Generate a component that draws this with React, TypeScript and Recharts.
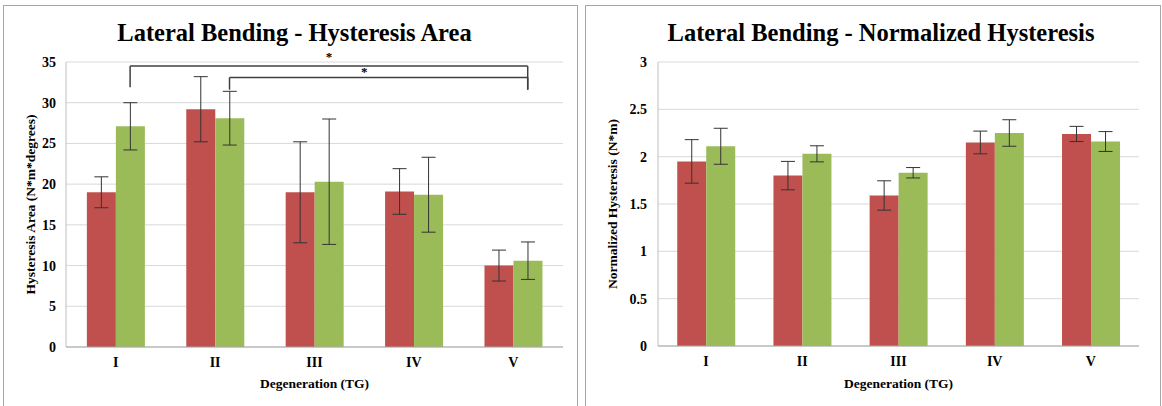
import React from "react";
import {
  BarChart,
  Bar,
  XAxis,
  YAxis,
  CartesianGrid,
  ErrorBar,
  ReferenceLine,
  Label,
} from "recharts";

const categories = ["I", "II", "III", "IV", "V"];

const areaRed = [19.0, 29.2, 19.0, 19.1, 10.0];
const areaRedErr = [1.9, 4.0, 6.2, 2.8, 1.9];
const areaGreen = [27.1, 28.1, 20.3, 18.7, 10.6];
const areaGreenErr = [2.9, 3.3, 7.7, 4.6, 2.3];
const areaTicks = [0, 5, 10, 15, 20, 25, 30, 35];

const normRed = [1.95, 1.8, 1.59, 2.15, 2.24];
const normRedErr = [0.23, 0.15, 0.155, 0.12, 0.08];
const normGreen = [2.11, 2.03, 1.83, 2.25, 2.16];
const normGreenErr = [0.19, 0.085, 0.055, 0.14, 0.105];
const normTicks = [0, 0.5, 1, 1.5, 2, 2.5, 3];

// significance brackets on the hysteresis area chart (between green bars)
const brackets = [
  { from: "I", to: "V", top: 34.5, leftEnd: 31.9, rightEnd: 31.6, starShift: true, starOffset: 5 },
  { from: "II", to: "V", top: 33.1, leftEnd: 31.6, rightEnd: 31.6, starShift: false, starOffset: 1 },
];

const RED = "#C0504D";
const GREEN = "#9BBB59";
const FONT = "'Liberation Serif', 'Times New Roman', serif";
const tickStyle = { fill: "#000", fontSize: 14, fontWeight: 700, fontFamily: FONT };

const areaData = categories.map((c, i) => ({
  name: c,
  red: areaRed[i],
  redErr: areaRedErr[i],
  green: areaGreen[i],
  greenErr: areaGreenErr[i],
}));

const normData = categories.map((c, i) => ({
  name: c,
  red: normRed[i],
  redErr: normRedErr[i],
  green: normGreen[i],
  greenErr: normGreenErr[i],
}));

const CHART_W = 573;
const CHART_H = 400;

const yTitle = (text: string, x: number) => (props: any) => {
  const vb = props.viewBox;
  const cy = vb.y + vb.height / 2;
  return (
    <text
      x={x}
      y={cy}
      transform={`rotate(-90 ${x} ${cy})`}
      textAnchor="middle"
      dominantBaseline="central"
      fontFamily={FONT}
      fontWeight={700}
      fontSize={13.5}
      fill="#000"
    >
      {text}
    </text>
  );
};

const xTitle = (text: string, y: number) => (props: any) => {
  const vb = props.viewBox;
  const cx = vb.x + vb.width / 2;
  return (
    <text
      x={cx}
      y={y}
      textAnchor="middle"
      dominantBaseline="central"
      fontFamily={FONT}
      fontWeight={700}
      fontSize={13.5}
      fill="#000"
    >
      {text}
    </text>
  );
};

function Panel({
  left,
  width,
  title,
  titleDx,
  children,
}: {
  left: number;
  width: number;
  title: string;
  titleDx: number;
  children: React.ReactNode;
}) {
  return (
    <div
      style={{
        position: "absolute",
        left,
        top: 5,
        width,
        height: 410,
        boxSizing: "border-box",
        border: "1px solid #A6A6A6",
        background: "#fff",
      }}
    >
      <div
        style={{
          position: "absolute",
          left: titleDx,
          right: 0,
          top: 12,
          textAlign: "center",
          fontFamily: FONT,
          fontWeight: 700,
          fontSize: 24.5,
          lineHeight: "30px",
          color: "#000",
          whiteSpace: "nowrap",
        }}
      >
        {title}
      </div>
      {children}
    </div>
  );
}

function AreaChartPanel() {
  const plotLeft = 62;
  const plotRight = 14;
  const gap = 0.21;
  const band = (CHART_W - plotLeft - plotRight) / categories.length;
  const dx = (band * (1 - 2 * gap)) / 4;

  const shifted = (p: any) => (
    <line
      x1={p.x1 + dx}
      y1={p.y1}
      x2={p.x2 + dx}
      y2={p.y2}
      stroke="#404040"
      strokeWidth={1.5}
    />
  );

  return (
    <BarChart
      width={CHART_W}
      height={CHART_H}
      data={areaData}
      margin={{ top: 56, right: plotRight, left: 0, bottom: 0 }}
      barGap={0}
      barCategoryGap={`${gap * 100}%`}
    >
      <CartesianGrid vertical={false} stroke="#D9D9D9" />
      <XAxis
        dataKey="name"
        height={59}
        tick={tickStyle}
        tickLine={false}
        tickSize={0}
        tickMargin={10}
        axisLine={{ stroke: "#A6A6A6" }}
      >
        <Label content={xTitle("Degeneration (TG)", 377)} />
      </XAxis>
      <YAxis
        width={plotLeft}
        domain={[0, 35]}
        ticks={areaTicks}
        interval={0}
        tick={tickStyle}
        tickLine={false}
        tickSize={0}
        tickMargin={10}
        axisLine={{ stroke: "#BFBFBF" }}
      >
        <Label content={yTitle("Hysteresis Area (N*m*degrees)", 26)} />
      </YAxis>
      <Bar dataKey="red" fill={RED} isAnimationActive={false}>
        <ErrorBar dataKey="redErr" width={7} stroke="#333" strokeWidth={1} isAnimationActive={false} />
      </Bar>
      <Bar dataKey="green" fill={GREEN} isAnimationActive={false}>
        <ErrorBar dataKey="greenErr" width={7} stroke="#333" strokeWidth={1} isAnimationActive={false} />
      </Bar>
      {brackets.map((b, i) => (
        <ReferenceLine
          key={`top-${i}`}
          segment={[
            { x: b.from, y: b.top },
            { x: b.to, y: b.top },
          ]}
          ifOverflow="visible"
          shape={shifted}
          label={{
            value: "*",
            position: "top",
            offset: b.starOffset,
            dx: b.starShift ? dx : 0,
            fill: "#000",
            fontSize: 13,
            fontWeight: 700,
            fontFamily: FONT,
          }}
        />
      ))}
      {brackets.map((b, i) => (
        <ReferenceLine
          key={`l-${i}`}
          segment={[
            { x: b.from, y: b.leftEnd },
            { x: b.from, y: b.top },
          ]}
          ifOverflow="visible"
          shape={shifted}
        />
      ))}
      {brackets.map((b, i) => (
        <ReferenceLine
          key={`r-${i}`}
          segment={[
            { x: b.to, y: b.rightEnd },
            { x: b.to, y: b.top },
          ]}
          ifOverflow="visible"
          shape={shifted}
        />
      ))}
    </BarChart>
  );
}

function NormChartPanel() {
  return (
    <BarChart
      width={CHART_W + 1}
      height={CHART_H}
      data={normData}
      margin={{ top: 56, right: 21, left: 0, bottom: 0 }}
      barGap={0}
      barCategoryGap="20%"
    >
      <CartesianGrid vertical={false} stroke="#D9D9D9" />
      <XAxis
        dataKey="name"
        height={60}
        tick={tickStyle}
        tickLine={false}
        tickSize={0}
        tickMargin={10}
        axisLine={{ stroke: "#A6A6A6" }}
      >
        <Label content={xTitle("Degeneration (TG)", 377)} />
      </XAxis>
      <YAxis
        width={72}
        domain={[0, 3]}
        ticks={normTicks}
        interval={0}
        tick={tickStyle}
        tickLine={false}
        tickSize={0}
        tickMargin={11}
        axisLine={{ stroke: "#BFBFBF" }}
      >
        <Label content={yTitle("Normalized Hysteresis (N*m)", 26)} />
      </YAxis>
      <Bar dataKey="red" fill={RED} isAnimationActive={false}>
        <ErrorBar dataKey="redErr" width={7} stroke="#333" strokeWidth={1} isAnimationActive={false} />
      </Bar>
      <Bar dataKey="green" fill={GREEN} isAnimationActive={false}>
        <ErrorBar dataKey="greenErr" width={7} stroke="#333" strokeWidth={1} isAnimationActive={false} />
      </Bar>
    </BarChart>
  );
}

export default function App() {
  return (
    <div
      style={{
        position: "absolute",
        left: 0,
        top: 0,
        width: 1162,
        height: 406,
        overflow: "hidden",
        background: "#fff",
      }}
    >
      <Panel left={3} width={575} title="Lateral Bending - Hysteresis Area" titleDx={8}>
        <AreaChartPanel />
      </Panel>
      <Panel left={585} width={576} title="Lateral Bending - Normalized Hysteresis" titleDx={16}>
        <NormChartPanel />
      </Panel>
    </div>
  );
}
